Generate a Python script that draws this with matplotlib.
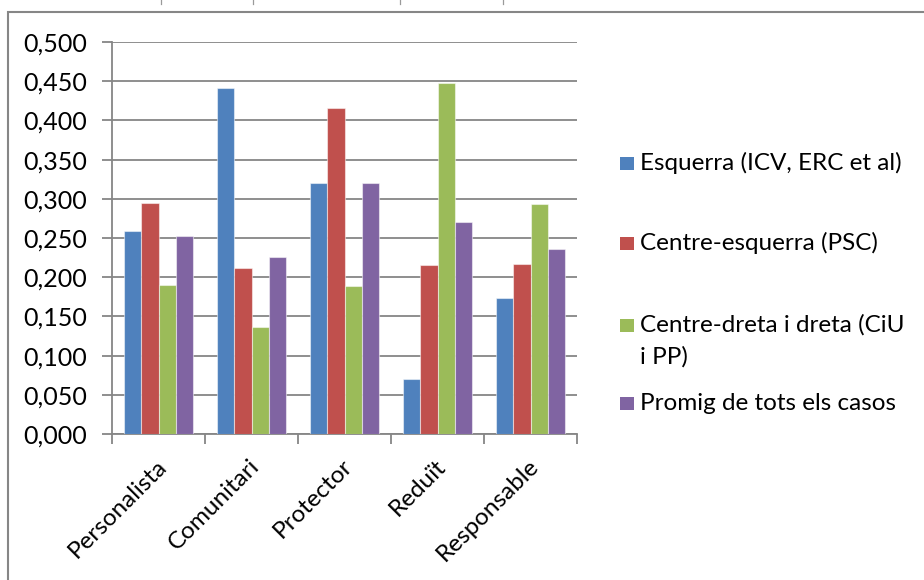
import matplotlib
matplotlib.use("Agg")
import matplotlib.pyplot as plt
from matplotlib.patches import Rectangle
from matplotlib.lines import Line2D
from matplotlib.ticker import FuncFormatter
import numpy as np

categories = ["Personalista", "Comunitari", "Protector", "Reduït", "Responsable"]
series_names = ["Esquerra (ICV, ERC et al)", "Centre-esquerra (PSC)",
                "Centre-dreta i dreta (CiU\ni PP)", "Promig de tots els casos"]
esquerra = [0.259, 0.441, 0.320, 0.070, 0.174]
centre_esquerra = [0.295, 0.212, 0.416, 0.215, 0.217]
centre_dreta = [0.190, 0.137, 0.189, 0.448, 0.293]
promig = [0.253, 0.226, 0.320, 0.270, 0.236]
colors = ["#4F81BD", "#C0504D", "#9BBB59", "#8064A2"]

plt.rcParams["font.family"] = ["Lato", "DejaVu Sans"]

fig = plt.figure(figsize=(9.24, 5.8), dpi=100)
W, H = 924, 580


def px(x, y):
    """Pixel position (from top-left) to figure fraction."""
    return x / W, 1 - y / H


# chart frame (runs past the right and bottom edges)
fig.patches.append(Rectangle((8 / W, -0.05), 1.1, (1 - 12 / H) + 0.05,
                             transform=fig.transFigure, fill=False,
                             edgecolor="#868686", lw=1.5))

# small marks of the page line above the frame
for xp in [161, 253, 400, 503]:
    x0, _ = px(xp, 0)
    _, y1 = px(xp, 4)
    fig.add_artist(Line2D([x0, x0], [y1, 1.0], transform=fig.transFigure,
                          color="#9a9a9a", lw=0.9))

ax = fig.add_axes([112 / W, 1 - 434 / H, (577 - 112) / W, (434 - 42) / H])

x = np.arange(len(categories))
bw = 0.183
all_series = [esquerra, centre_esquerra, centre_dreta, promig]
for i, (vals, c, name) in enumerate(zip(all_series, colors, series_names)):
    ax.bar(x + (i - 1.5) * bw, vals, width=bw, color=c, label=name,
           edgecolor=(1, 1, 1, 0.5), linewidth=0.8, zorder=3)

ax.set_xlim(-0.5, len(categories) - 0.5)
ax.set_ylim(0, 0.5)
ax.set_yticks(np.arange(0, 0.5001, 0.05))
ax.yaxis.set_major_formatter(FuncFormatter(lambda v, p: f"{v:.3f}".replace(".", ",")))
ax.grid(axis="y", color="#868686", lw=1.3, zorder=0)
ax.set_axisbelow(True)

for s in ["top", "right"]:
    ax.spines[s].set_visible(False)
for s in ["left", "bottom"]:
    ax.spines[s].set_color("#868686")
    ax.spines[s].set_linewidth(1.3)

ax.set_xticks(np.arange(-0.5, len(categories), 1.0))
ax.set_xticklabels([])
ax.tick_params(axis="x", direction="out", length=7, color="#868686", width=1.3)
ax.tick_params(axis="y", direction="out", length=7, color="#868686", width=1.3,
               labelsize=18, pad=11)

for xi, lab in zip(x, categories):
    ax.text(xi + 0.05, -0.037, lab, rotation=45, rotation_mode="anchor",
            ha="right", va="center", fontsize=17.5, transform=ax.transData)

# legend, laid out entry by entry
leg_first_line_y = [163, 243, 325, 403]
line_step = 32
for name, c, yc in zip(series_names, colors, leg_first_line_y):
    sx, sy = px(620, yc + 6.5)
    fig.patches.append(Rectangle((sx, sy), 14 / W, 13 / H,
                                 transform=fig.transFigure, facecolor=c,
                                 edgecolor="none"))
    for k, line in enumerate(name.split("\n")):
        tx, ty = px(640, yc + k * line_step)
        fig.text(tx, ty, line, ha="left", va="center", fontsize=17.5)

fig.savefig("out.png", dpi=100)
